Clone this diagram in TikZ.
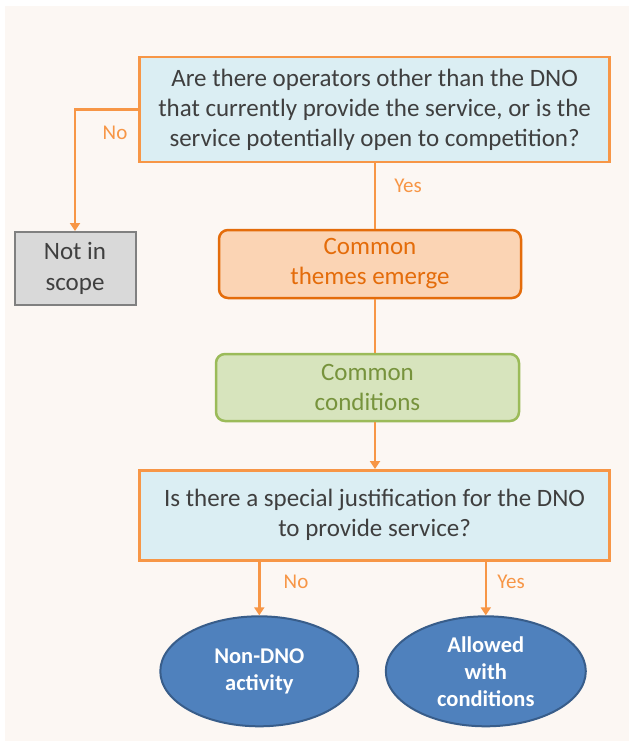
\documentclass[tikz,border=0pt]{standalone}
\usepackage{fontspec}
\setmainfont{Carlito}
\usetikzlibrary{arrows.meta,shapes.geometric}
\definecolor{pagecream}{HTML}{FCF7F3}
\definecolor{qfill}{HTML}{DBEEF3}
\definecolor{qline}{HTML}{F79646}
\definecolor{maintext}{HTML}{3F3F3F}
\definecolor{greyfill}{HTML}{D9D9D9}
\definecolor{greyline}{HTML}{808080}
\definecolor{peachfill}{HTML}{FBD4B4}
\definecolor{peachline}{HTML}{E46C0A}
\definecolor{greenfill}{HTML}{D7E4BD}
\definecolor{greenline}{HTML}{9BBB59}
\definecolor{greentext}{HTML}{77933C}
\definecolor{bluefill}{HTML}{4F81BD}
\definecolor{blueline}{HTML}{385D8A}
\begin{document}
\begin{tikzpicture}[x=1pt,y=-1pt,
  question/.style={draw=qline,fill=qfill,line width=2.5pt,minimum width=470pt,
    inner sep=0pt,align=center,text=maintext,font=\fontsize{25}{30}\selectfont},
  outbox/.style={draw=greyline,fill=greyfill,line width=2pt,minimum width=121pt,
    minimum height=73pt,inner sep=0pt,align=center,text=maintext,
    font=\fontsize{25}{31}\selectfont},
  themebox/.style={draw=peachline,fill=peachfill,line width=2.5pt,rounded corners=9pt,
    minimum width=302pt,minimum height=68pt,inner sep=0pt,align=center,
    text=peachline,font=\fontsize{25}{30}\selectfont},
  condbox/.style={draw=greenline,fill=greenfill,line width=2.5pt,rounded corners=9pt,
    minimum width=303pt,minimum height=67pt,inner sep=0pt,align=center,
    text=greentext,font=\fontsize{25}{30}\selectfont},
  result/.style={ellipse,draw=blueline,fill=bluefill,line width=2pt,inner sep=0pt,
    align=center,text=white,font=\bfseries\fontsize{22.5}{27}\selectfont},
  link/.style={draw=qline,line width=2.5pt},
  flow/.style={link,-{Triangle[length=8pt,width=10pt]}},
  answer/.style={text=qline,font=\fontsize{21}{24}\selectfont,inner sep=0pt}]

% page background
\useasboundingbox (0,0) rectangle (629,742);
\fill[white] (0,0) rectangle (629,742);
\fill[pagecream] (5,6) rectangle (629,741);

% boxes
\node[question,minimum height=105pt] (q1) at (374.6,109.5)
  {Are there operators other than the DNO\\that currently provide the service, or is the\\service potentially open to competition?};
\node[outbox] (out) at (75,268.5) {Not in\\scope};
\node[themebox] (themes) at (370,264) {Common\\themes emerge};
\node[condbox] (cond) at (367.5,387.5) {Common\\conditions};
\node[question,minimum height=90pt] (q2) at (374.6,515.3)
  {Is there a special justification for the DNO\\to provide service?};
\node[result,minimum width=198pt,minimum height=110pt] (nondno) at (259.3,671.3) {Non-DNO\\activity};
\node[result,minimum width=200pt,minimum height=110pt] (allowed) at (485.8,671.3) {Allowed\\with\\conditions};

% connectors
\coordinate (trunk) at (375,0);
\draw[flow] (q1.west) -| (out.north);
\draw[link] (trunk |- q1.south) -- (trunk |- themes.north);
\draw[link] (trunk |- themes.south) -- (trunk |- cond.north);
\draw[flow] (trunk |- cond.south) -- (trunk |- q2.north);
\draw[flow] (nondno.north |- q2.south) -- (nondno.north);
\draw[flow] (allowed.north |- q2.south) -- (allowed.north);

% answers
\node[answer] (no1) at (115,133) {No};
\node[answer] (yes1) at (408,186) {Yes};
\node[answer] (no2) at (296,582) {No};
\node[answer] (yes2) at (511,582) {Yes};
\end{tikzpicture}
\end{document}
